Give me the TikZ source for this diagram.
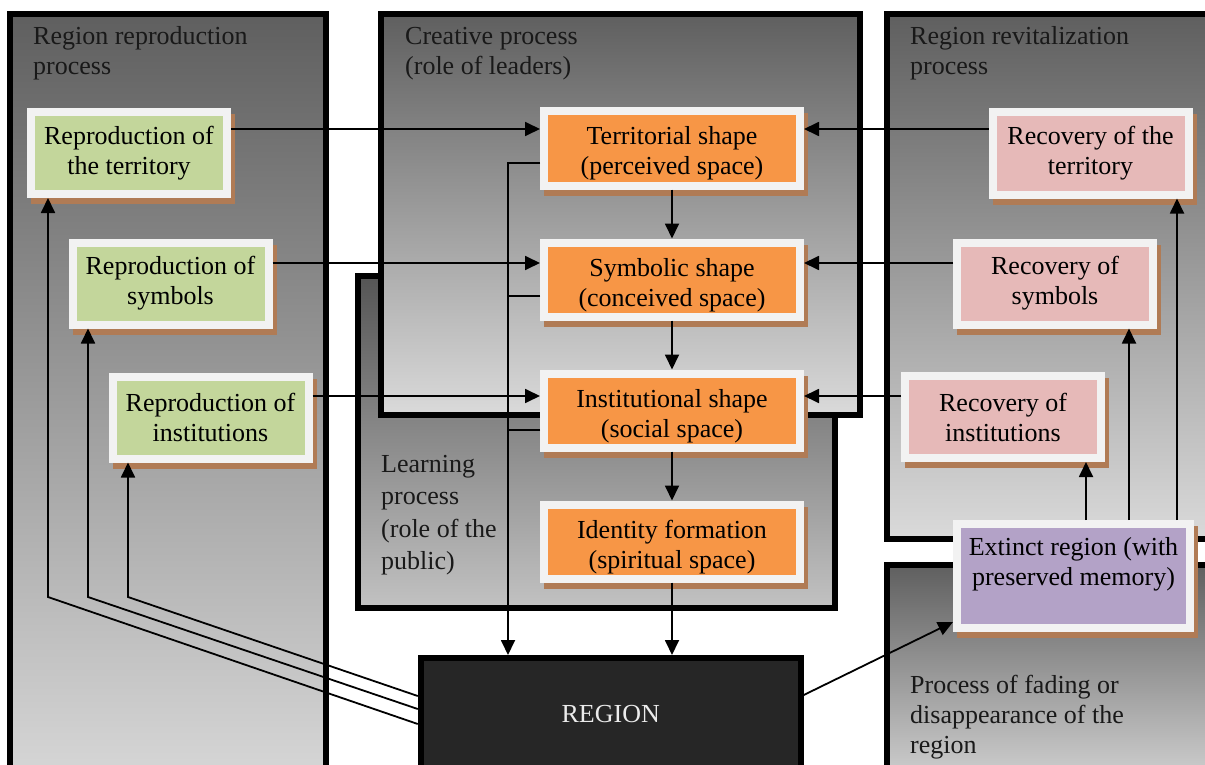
\documentclass[tikz,border=0pt]{standalone}
\usepackage{fontspec}
\setmainfont{Liberation Serif}
\usetikzlibrary{arrows.meta,positioning,shadows}

\definecolor{boxgreen}{HTML}{C3D69B}
\definecolor{boxorange}{HTML}{F79646}
\definecolor{boxpink}{HTML}{E6B9B8}
\definecolor{boxpurple}{HTML}{B3A2C7}
\definecolor{boxframe}{HTML}{F2F2F2}
\definecolor{boxshadow}{HTML}{B07B55}
\definecolor{shadetop}{HTML}{5F5F5F}
\definecolor{shadebot}{HTML}{DADADA}
\definecolor{learntop}{HTML}{555555}
\definecolor{learnbot}{HTML}{C2C2C2}
\definecolor{regionfill}{HTML}{262626}

\begin{document}
\begin{tikzpicture}[x=1pt, y=-1pt, node distance=49pt,
  >={Triangle[length=15pt,width=14pt]},
  every node/.style={font=\fontsize{26}{30}\selectfont},
  panel/.style={draw, line width=6pt, top color=shadetop, bottom color=shadebot},
  paneltitle/.style={anchor=base west, align=left, inner sep=0pt, text=black!90},
  card/.style={draw=boxframe, line width=8pt, align=center, inner sep=0pt,
    general shadow={fill=boxshadow, draw=boxshadow, line width=8pt, shadow xshift=4pt, shadow yshift=-6pt}},
  greenbox/.style={card, fill=boxgreen, minimum width=196pt, minimum height=82pt},
  pinkbox/.style={card, fill=boxpink, minimum width=196pt, minimum height=82pt},
  orangebox/.style={card, fill=boxorange, minimum width=256pt, minimum height=74pt,
    text height=59pt, text depth=6pt},
  link/.style={line width=1.8pt}]
\useasboundingbox (0,0) rectangle (1205,765);

% background panels
\path[panel] (10,14) rectangle (326,800);
\path[panel] (887,14) rectangle (1240,539);
\path[panel] (887,565) rectangle (1240,800);
\path[panel, top color=learntop, bottom color=learnbot] (358,276) rectangle (835,608);
\path[panel] (381,14) rectangle (860,415);

\node[paneltitle] (reptitle) at (33,75) {Region reproduction\\process};
\node[paneltitle] (cretitle) at (405,75) {Creative process\\(role of leaders)};
\node[paneltitle] (revtitle) at (910,75) {Region revitalization\\process};
\node[paneltitle, font=\fontsize{26}{32.5}\selectfont] (learntitle) at (381,569.5) {Learning\\process\\(role of the\\public)};
\node[paneltitle] (fadetitle) at (910,753) {Process of fading or\\disappearance of the\\region};

% boxes
\node[greenbox] (repterr) at (129,153) {Reproduction of\\the territory};
\node[greenbox] (repsym) at (170.5,283.5) {Reproduction of\\symbols};
\node[greenbox] (repinst) at (210.5,417.5) {Reproduction of\\institutions};

\node[orangebox] (terr) at (672,148.5) {Territorial shape\\(perceived space)};
\node[orangebox, below=of terr] (sym) {Symbolic shape\\(conceived space)};
\node[orangebox, below=of sym] (inst) {Institutional shape\\(social space)};
\node[orangebox, below=of inst] (ident) {Identity formation\\(spiritual space)};

\node[pinkbox] (recterr) at (1090.5,153.5) {Recovery of the\\territory};
\node[pinkbox] (recsym) at (1055,283.5) {Recovery of\\symbols};
\node[pinkbox] (recinst) at (1003,417) {Recovery of\\institutions};
\node[card, fill=boxpurple, minimum width=233pt, minimum height=104pt] (extinct) at (1073.5,576) {Extinct region (with\\preserved memory)\\\mbox{}};

\node[draw, line width=6pt, fill=regionfill, text=white!92!black, minimum width=380pt, minimum height=112pt] (region) at (610.75,714) {REGION};

% connectors
\draw[link, ->] ([yshift=24pt]repterr.east) -- ([yshift=19.5pt]terr.west);
\draw[link, ->] ([yshift=20.5pt]repsym.east) -- ([yshift=16.5pt]sym.west);
\draw[link, ->] ([yshift=21.5pt]repinst.east) -- ([yshift=14.5pt]inst.west);
\draw[link, ->] ([yshift=24.5pt]recterr.west) -- ([yshift=19.5pt]terr.east);
\draw[link, ->] ([yshift=20.5pt]recsym.west) -- ([yshift=16.5pt]sym.east);
\draw[link, ->] ([yshift=21pt]recinst.west) -- ([yshift=14.5pt]inst.east);

\draw[link, ->] (terr) -- (sym);
\draw[link, ->] (sym) -- (inst);
\draw[link, ->] (inst) -- (ident);
\draw[link, ->] (ident.south) -- (ident.south |- region.north);

\coordinate (bus) at (508,163);
\draw[link, ->] ([yshift=-14.5pt]terr.west) -- (bus) -- (bus |- region.north);
\draw[link] ([yshift=-16.5pt]sym.west) -| (bus);
\draw[link] ([yshift=-19.5pt]inst.west) -| (bus);

\coordinate (kterr) at (48,597);
\coordinate (ksym) at (88,597);
\coordinate (kinst) at (128,597);
\draw[link, ->] ([yshift=-10pt]region.west) -- (kterr) -- (kterr |- repterr.south);
\draw[link, ->] ([yshift=5pt]region.west) -- (ksym) -- (ksym |- repsym.south);
\draw[link, ->] ([yshift=18pt]region.west) -- (kinst) -- (kinst |- repinst.south);

\draw[link, ->] ([yshift=19pt]region.east) -- ([yshift=-46pt]extinct.west);

\coordinate (uinst) at ([xshift=12.5pt]extinct.north);
\coordinate (usym) at ([xshift=55.5pt]extinct.north);
\coordinate (uterr) at ([xshift=103.5pt]extinct.north);
\draw[link, ->] (uinst) -- (uinst |- recinst.south);
\draw[link, ->] (usym) -- (usym |- recsym.south);
\draw[link, ->] (uterr) -- (uterr |- recterr.south);
\end{tikzpicture}
\end{document}
